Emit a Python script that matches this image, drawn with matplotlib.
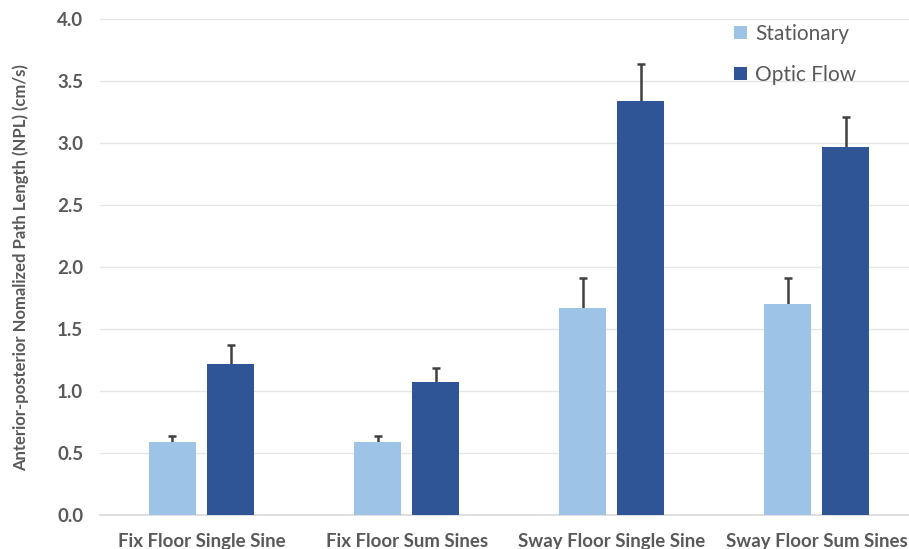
import numpy as np
import matplotlib.pyplot as plt

# ---------- DATA ----------
categories = ["Fix Floor Single Sine", "Fix Floor Sum Sines",
              "Sway Floor Single Sine", "Sway Floor Sum Sines"]
stationary = [0.59, 0.59, 1.67, 1.70]
stationary_err = [0.05, 0.05, 0.24, 0.21]
optic_flow = [1.22, 1.07, 3.34, 2.97]
optic_flow_err = [0.15, 0.115, 0.30, 0.24]

# ---------- PLOT ----------
plt.rcParams['font.family'] = ['Lato', 'DejaVu Sans']

fig = plt.figure(figsize=(9.09, 5.49), dpi=100)
ax = fig.add_axes([0.11, 0.062, 0.89, 0.903])

x = np.arange(len(categories))
w = 0.23
off = 0.1415
ekw = dict(fmt="none", ecolor="#404040", elinewidth=1.8, capsize=3,
           capthick=1.8, zorder=2)

# error bars sit behind the bars so only the upper half shows
ax.bar(x - off, stationary, w, color="#9DC3E6", label="Stationary", zorder=3)
ax.bar(x + off, optic_flow, w, color="#2F5597", label="Optic Flow", zorder=3)
ax.errorbar(x - off, stationary, yerr=stationary_err, **ekw)
ax.errorbar(x + off, optic_flow, yerr=optic_flow_err, **ekw)

ax.set_ylim(0, 4.0)
ax.set_xlim(-0.495, 3.45)
ax.set_yticks(np.arange(0, 4.01, 0.5))
ax.set_yticklabels([f"{v:.1f}" for v in np.arange(0, 4.01, 0.5)])
ax.set_xticks(x)
ax.set_xticklabels(categories)

ax.grid(axis="y", color="#E6E6E6", linewidth=1, zorder=0)
for s in ["top", "right", "left"]:
    ax.spines[s].set_visible(False)
ax.spines["bottom"].set_color("#D9D9D9")
ax.spines["bottom"].set_linewidth(1.2)
ax.tick_params(axis="both", length=0, colors="#595959")
ax.tick_params(axis="y", pad=12, labelsize=13.5)
ax.tick_params(axis="x", pad=13, labelsize=13.4)
for lab in ax.get_xticklabels() + ax.get_yticklabels():
    lab.set_fontweight("bold")

ax.set_ylabel("Anterior-posterior Nomalized Path Length (NPL) (cm/s)",
              fontsize=12, fontweight="bold", color="#595959", labelpad=20)

leg = ax.legend(loc="upper left", bbox_to_anchor=(0.761, 1.028), frameon=False,
                fontsize=15, handlelength=0.6, handleheight=0.6,
                labelspacing=1.0, handletextpad=0.4)
for t in leg.get_texts():
    t.set_color("#595959")

fig.savefig("out.png", dpi=100)
